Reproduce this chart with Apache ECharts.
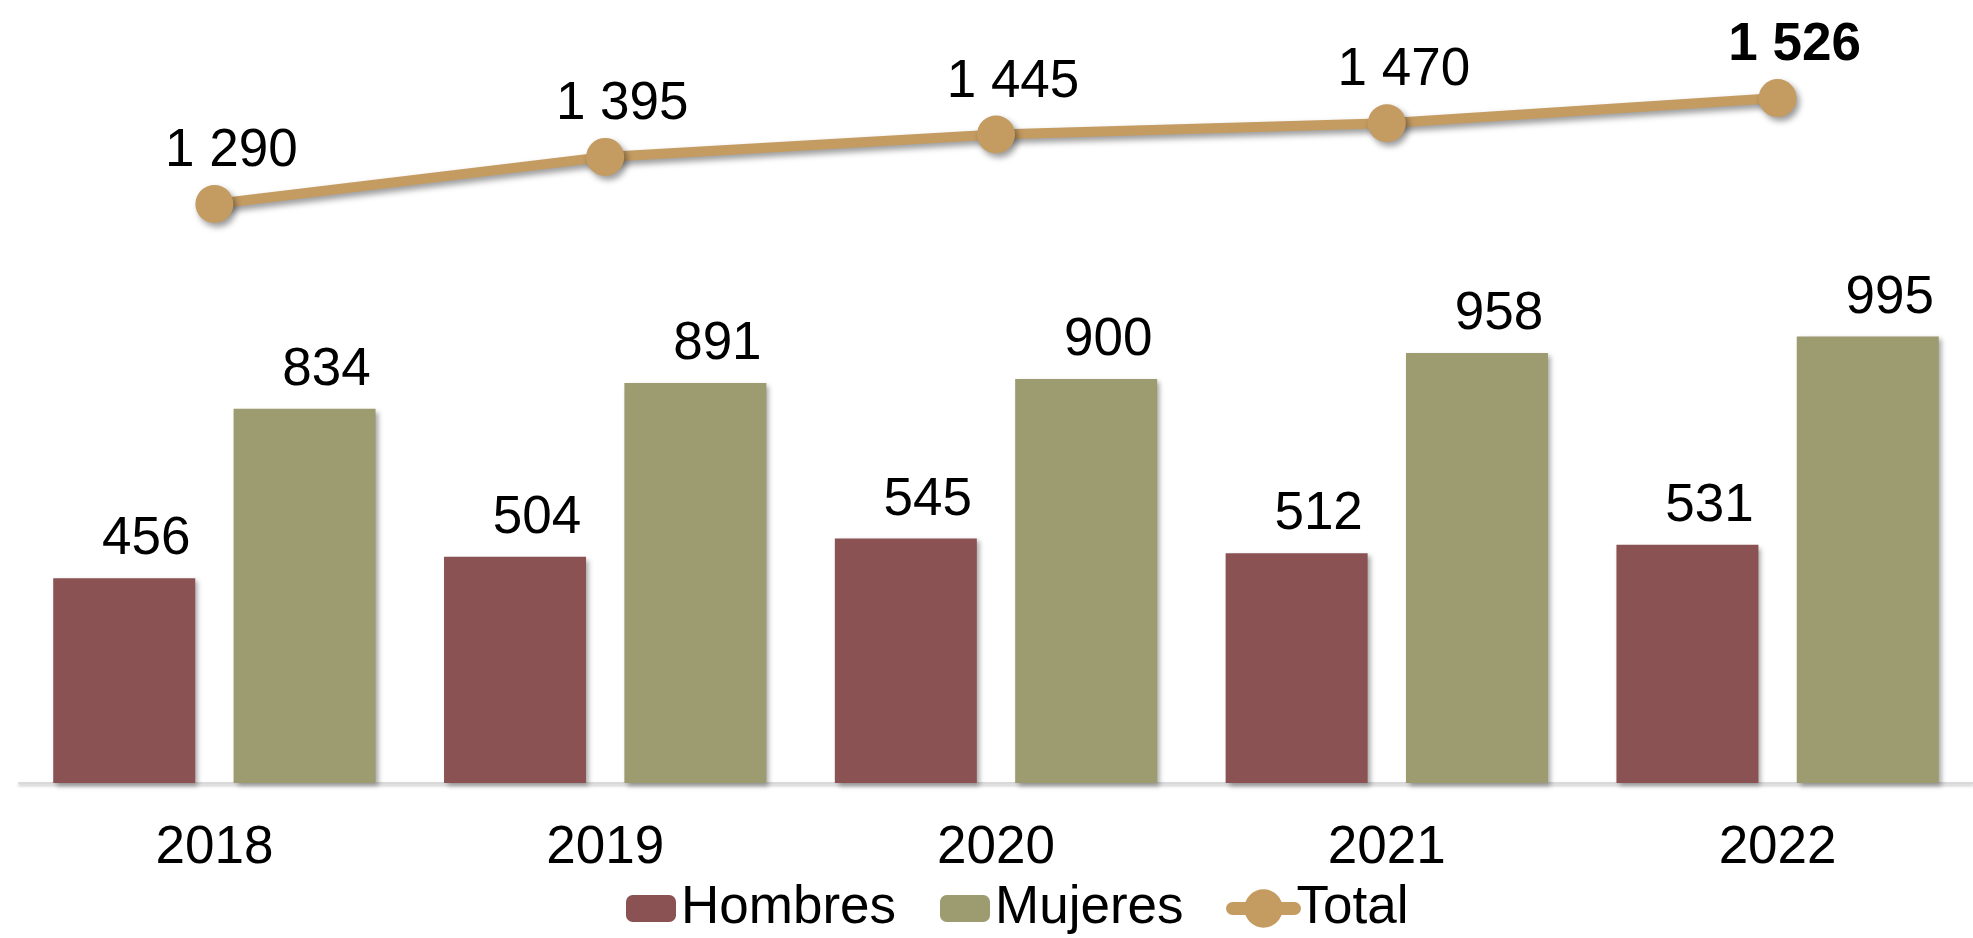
<!DOCTYPE html>
<html>
<head>
<meta charset="utf-8">
<script src="https://cdn.jsdelivr.net/npm/echarts@6/dist/echarts.min.js"></script>
<style>
html,body{margin:0;padding:0;background:#fff;}
#c{width:1973px;height:938px;}
</style>
</head>
<body>
<div id="c"></div>
<script>
const years = ['2018', '2019', '2020', '2021', '2022'];
const hombres = [456, 504, 545, 512, 531];
const mujeres = [834, 891, 900, 958, 995];
const total = [1290, 1395, 1445, 1470, 1526];

const FONT = '"Liberation Sans", Arial, sans-serif';
const FS = 53;
const LINE_COLOR = '#C49B61';
const fmt = v => {
  const s = String(Math.round(v));
  return s.replace(/\B(?=(\d{3})+(?!\d))/g, ' ');
};
const barShadow = {
  shadowColor: 'rgba(0,0,0,0.35)',
  shadowBlur: 5,
  shadowOffsetX: 3,
  shadowOffsetY: 3
};
const noShadow = { shadowBlur: 0, shadowOffsetX: 0, shadowOffsetY: 0, shadowColor: 'rgba(0,0,0,0)' };
const barLabel = {
  show: true,
  position: 'top',
  distance: 12,
  offset: [22, 0],
  fontFamily: FONT,
  fontSize: FS,
  lineHeight: FS,
  color: '#000',
  formatter: p => fmt(p.value)
};

const chart = echarts.init(document.getElementById('c'));
chart.setOption({
  animation: false,
  backgroundColor: '#fff',
  grid: { left: 19, width: 1961, top: 20, bottom: 155, containLabel: false },
  legend: [
    {
      top: 877,
      left: 621,
      itemGap: 44,
      itemWidth: 50,
      itemHeight: 27,
      textStyle: { fontFamily: FONT, fontSize: FS, color: '#000' },
      data: [
        { name: 'Hombres', itemStyle: noShadow },
        { name: 'Mujeres', itemStyle: noShadow }
      ]
    },
    {
      top: 877,
      left: 1221,
      itemWidth: 62,
      itemHeight: 48,
      textStyle: { fontFamily: FONT, fontSize: FS, color: '#000', padding: [0, 0, 0, -3] },
      data: [
        { name: 'Total', itemStyle: noShadow, lineStyle: Object.assign({ width: 13, cap: 'round' }, noShadow) }
      ]
    }
  ],
  xAxis: {
    type: 'category',
    data: years,
    axisLine: { lineStyle: { color: '#D9D9D9', width: 2, shadowColor: 'rgba(0,0,0,0.25)', shadowBlur: 3, shadowOffsetY: 2 } },
    axisTick: { show: false },
    axisLabel: { fontFamily: FONT, fontSize: FS, color: '#000', margin: 39 }
  },
  yAxis: {
    type: 'value',
    min: 0,
    max: 1700,
    show: false,
    splitLine: { show: false }
  },
  series: [
    {
      name: 'Hombres',
      type: 'bar',
      data: hombres,
      barWidth: 142,
      barGap: '27%',
      itemStyle: Object.assign({ color: '#8B5254' }, barShadow),
      label: barLabel
    },
    {
      name: 'Mujeres',
      type: 'bar',
      data: mujeres,
      barWidth: 142,
      barGap: '27%',
      itemStyle: Object.assign({ color: '#9C9C70' }, barShadow),
      label: barLabel
    },
    {
      name: 'Total',
      type: 'line',
      z: 5,
      data: total.map((v, i) => i === total.length - 1
        ? { value: v, label: { fontWeight: 'bold' } }
        : v),
      symbol: 'circle',
      symbolSize: 38,
      lineStyle: { color: LINE_COLOR, width: 10, shadowColor: 'rgba(0,0,0,0.4)', shadowBlur: 6, shadowOffsetX: 3, shadowOffsetY: 4 },
      itemStyle: { color: LINE_COLOR, shadowColor: 'rgba(0,0,0,0.4)', shadowBlur: 6, shadowOffsetX: 3, shadowOffsetY: 4 },
      label: {
        show: true,
        position: 'top',
        distance: 7,
        offset: [17, 0],
        fontFamily: FONT,
        fontSize: FS,
        lineHeight: FS,
        color: '#000',
        formatter: p => fmt(p.value)
      }
    }
  ]
});
</script>
</body>
</html>
